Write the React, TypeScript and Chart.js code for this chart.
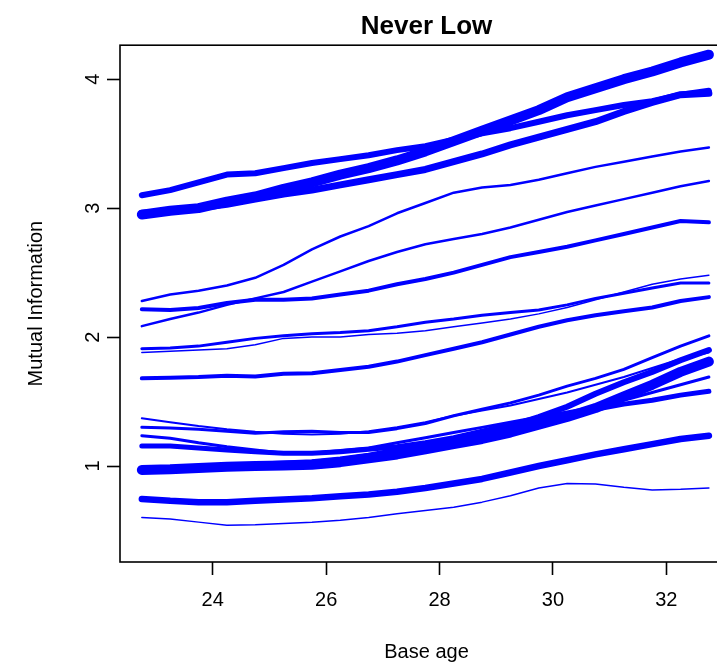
import React, { useEffect, useRef } from "react";
import { Chart, registerables } from "chart.js";

Chart.register(...registerables);

// ---- data ----
const baseAge = [22.75, 23.25, 23.75, 24.25, 24.75, 25.25, 25.75, 26.25, 26.75, 27.25, 27.75, 28.25, 28.75, 29.25, 29.75, 30.25, 30.75, 31.25, 31.75, 32.25, 32.75];

const seriesT = [2.95, 2.98, 3.0, 3.05, 3.09, 3.15, 3.2, 3.26, 3.31, 3.37, 3.44, 3.52, 3.6, 3.68, 3.76, 3.86, 3.93, 4.0, 4.06, 4.13, 4.19];
const seriesA = [3.1, 3.14, 3.2, 3.26, 3.27, 3.31, 3.35, 3.38, 3.41, 3.45, 3.48, 3.53, 3.58, 3.62, 3.67, 3.72, 3.76, 3.8, 3.83, 3.88, 3.91];
const seriesC = [2.96, 2.975, 3.0, 3.03, 3.07, 3.11, 3.14, 3.18, 3.22, 3.26, 3.3, 3.36, 3.42, 3.49, 3.55, 3.61, 3.67, 3.75, 3.82, 3.88, 3.89];
const seriesD = [2.28, 2.33, 2.36, 2.4, 2.46, 2.56, 2.68, 2.78, 2.86, 2.96, 3.04, 3.12, 3.16, 3.18, 3.22, 3.27, 3.32, 3.36, 3.4, 3.44, 3.47];
const seriesE = [2.085, 2.14, 2.19, 2.25, 2.3, 2.35, 2.43, 2.51, 2.59, 2.66, 2.72, 2.76, 2.8, 2.85, 2.91, 2.97, 3.02, 3.07, 3.12, 3.17, 3.21];
const seriesF = [2.215, 2.21, 2.225, 2.265, 2.29, 2.29, 2.3, 2.33, 2.36, 2.41, 2.45, 2.5, 2.56, 2.62, 2.66, 2.7, 2.75, 2.8, 2.85, 2.9, 2.89];
const seriesG = [1.91, 1.915, 1.93, 1.96, 1.99, 2.01, 2.025, 2.035, 2.05, 2.08, 2.115, 2.14, 2.17, 2.19, 2.21, 2.25, 2.3, 2.34, 2.38, 2.42, 2.42];
const seriesH = [1.88, 1.89, 1.9, 1.91, 1.94, 1.99, 2.0, 2.0, 2.02, 2.03, 2.05, 2.08, 2.11, 2.14, 2.18, 2.23, 2.29, 2.35, 2.41, 2.45, 2.48];
const seriesI = [1.68, 1.685, 1.69, 1.7, 1.695, 1.715, 1.72, 1.745, 1.77, 1.81, 1.86, 1.91, 1.96, 2.02, 2.08, 2.13, 2.17, 2.2, 2.23, 2.28, 2.31];
const seriesL1 = [1.37, 1.34, 1.31, 1.285, 1.265, 1.25, 1.245, 1.25, 1.27, 1.3, 1.34, 1.39, 1.43, 1.47, 1.52, 1.57, 1.63, 1.69, 1.76, 1.83, 1.88];
const seriesL2 = [1.3, 1.295, 1.285, 1.27, 1.255, 1.265, 1.27, 1.26, 1.26, 1.29, 1.33, 1.39, 1.44, 1.49, 1.55, 1.62, 1.68, 1.75, 1.84, 1.93, 2.01];
const seriesL3 = [1.235, 1.215, 1.18, 1.15, 1.125, 1.1, 1.1, 1.12, 1.14, 1.18, 1.22, 1.26, 1.3, 1.34, 1.38, 1.42, 1.46, 1.51, 1.57, 1.63, 1.69];
const seriesL4 = [1.155, 1.155, 1.14, 1.125, 1.11, 1.1, 1.1, 1.11, 1.13, 1.15, 1.18, 1.22, 1.27, 1.32, 1.36, 1.4, 1.44, 1.48, 1.51, 1.55, 1.58];
const seriesL5 = [0.97, 0.975, 0.985, 0.995, 1.0, 1.005, 1.01, 1.03, 1.06, 1.09, 1.13, 1.17, 1.21, 1.26, 1.32, 1.38, 1.45, 1.54, 1.63, 1.73, 1.81];
const seriesL6 = [0.975, 0.98, 0.99, 1.0, 1.01, 1.02, 1.03, 1.05, 1.08, 1.12, 1.16, 1.21, 1.26, 1.31, 1.38, 1.46, 1.56, 1.65, 1.73, 1.82, 1.9];
const seriesL7 = [0.745, 0.73, 0.72, 0.72, 0.73, 0.74, 0.75, 0.765, 0.78, 0.8, 0.83, 0.865, 0.9, 0.95, 1.0, 1.045, 1.09, 1.13, 1.17, 1.21, 1.235];
const seriesL8 = [0.6, 0.59, 0.565, 0.54, 0.545, 0.555, 0.565, 0.58, 0.6, 0.63, 0.655, 0.68, 0.72, 0.77, 0.83, 0.865, 0.86, 0.835, 0.815, 0.82, 0.83];

const xTicks = [24, 26, 28, 30, 32];
const yTicks = [1, 2, 3, 4];

const titleText = "Never Low";
const xTitle = "Base age";
const yTitle = "Mutual Information";

const FONT = "'Liberation Sans', Arial, Helvetica, sans-serif";
const BLUE = "#0000ff";

const lines: { values: number[]; width: number }[] = [
  { values: seriesT, width: 10 },
  { values: seriesA, width: 6 },
  { values: seriesC, width: 7 },
  { values: seriesD, width: 2.5 },
  { values: seriesE, width: 2.5 },
  { values: seriesF, width: 4 },
  { values: seriesG, width: 3 },
  { values: seriesH, width: 1.5 },
  { values: seriesI, width: 4 },
  { values: seriesL1, width: 2 },
  { values: seriesL2, width: 3 },
  { values: seriesL3, width: 3 },
  { values: seriesL4, width: 5 },
  { values: seriesL5, width: 10 },
  { values: seriesL6, width: 6 },
  { values: seriesL7, width: 6.5 },
  { values: seriesL8, width: 1.5 },
];

const boxPlugin = {
  id: "rbox",
  afterDatasetsDraw(chart: any) {
    const { ctx, chartArea } = chart;
    ctx.save();
    ctx.strokeStyle = "#000";
    ctx.lineWidth = 1.6;
    ctx.strokeRect(chartArea.left, chartArea.top, chartArea.right - chartArea.left, chartArea.bottom - chartArea.top);
    ctx.restore();
  },
};

export default function App() {
  const ref = useRef<HTMLCanvasElement | null>(null);

  useEffect(() => {
    if (!ref.current) return;
    const chart = new Chart(ref.current, {
      type: "line",
      data: {
        datasets: lines.map((l) => ({
          data: baseAge.map((x, i) => ({ x, y: l.values[i] })),
          borderColor: BLUE,
          backgroundColor: BLUE,
          borderWidth: l.width,
          borderCapStyle: "round",
          borderJoinStyle: "round",
          pointRadius: 0,
          tension: 0,
          fill: false,
        })),
      },
      plugins: [boxPlugin],
      options: {
        responsive: false,
        animation: false,
        events: [],
        devicePixelRatio: 1,
        layout: { padding: { left: 0, right: 12, top: 0, bottom: 0 } },
        plugins: {
          legend: { display: false },
          tooltip: { enabled: false },
          title: {
            display: true,
            text: titleText,
            fullSize: false,
            color: "#000",
            font: { family: FONT, size: 26, weight: "bold" },
            padding: { top: 11, bottom: 3 },
          },
        },
        scales: {
          x: {
            type: "linear",
            min: 22.365,
            max: 33.175,
            afterFit: (s: any) => {
              s.height = 104;
            },
            afterBuildTicks: (s: any) => {
              s.ticks = xTicks.map((v) => ({ value: v }));
            },
            grid: {
              display: true,
              drawOnChartArea: false,
              drawTicks: true,
              tickLength: 13,
              tickWidth: 1.6,
              tickColor: "#000",
            },
            border: { display: false },
            ticks: {
              color: "#000",
              font: { family: FONT, size: 20 },
              padding: 13,
              maxRotation: 0,
              minRotation: 0,
              autoSkip: false,
            },
            title: {
              display: true,
              text: xTitle,
              color: "#000",
              font: { family: FONT, size: 20 },
              padding: { top: 0, bottom: 2 },
            },
          },
          y: {
            type: "linear",
            min: 0.2558,
            max: 4.2636,
            afterFit: (s: any) => {
              s.width = 120;
            },
            afterBuildTicks: (s: any) => {
              s.ticks = yTicks.map((v) => ({ value: v }));
            },
            grid: {
              display: true,
              drawOnChartArea: false,
              drawTicks: true,
              tickLength: 13,
              tickWidth: 1.6,
              tickColor: "#000",
            },
            border: { display: false },
            ticks: {
              color: "#000",
              font: { family: FONT, size: 20 },
              padding: 8,
              minRotation: 90,
              maxRotation: 90,
              crossAlign: "center",
              autoSkip: false,
            },
            title: {
              display: true,
              text: yTitle,
              color: "#000",
              font: { family: FONT, size: 20 },
              padding: { top: 24, bottom: 0 },
            },
          },
        },
      } as any,
    });
    return () => chart.destroy();
  }, []);

  return (
    <div style={{ position: "absolute", left: 0, top: 0, width: 717, height: 666, overflow: "hidden", background: "#fff" }}>
      <canvas ref={ref} width={745} height={666} style={{ width: 745, height: 666, display: "block" }} />
    </div>
  );
}
